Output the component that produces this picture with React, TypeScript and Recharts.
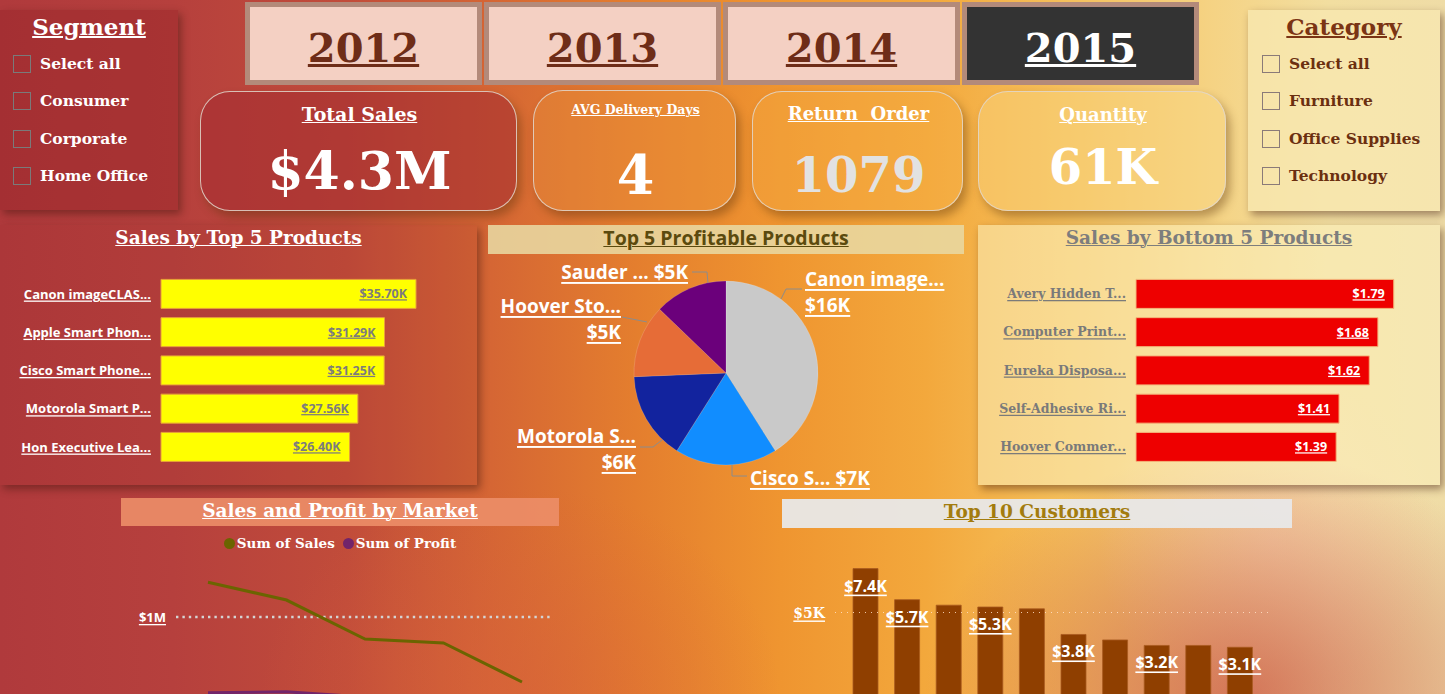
import React from 'react';
import { BarChart, Bar, XAxis, YAxis, ReferenceLine, LabelList, PieChart, Pie, Cell, LineChart, Line } from 'recharts';

// ---------- data ----------
const segments = ['Select all', 'Consumer', 'Corporate', 'Home Office'];
const categories = ['Select all', 'Furniture', 'Office Supplies', 'Technology'];
const years = ['2012', '2013', '2014', '2015'];
const selectedYear = '2015';

const kpiTitles = ['Total Sales', 'AVG Delivery Days', 'Return  Order', 'Quantity'];
const kpiValues = ['$4.3M', '4', '1079', '61K'];

const topProducts = ['Canon imageCLAS...', 'Apple Smart Phon...', 'Cisco Smart Phone...', 'Motorola Smart P...', 'Hon Executive Lea...'];
const topProductSales = [35.7, 31.29, 31.25, 27.56, 26.4]; // $K

const profitProducts = ['Canon image...', 'Cisco S...', 'Motorola S...', 'Hoover Sto...', 'Sauder ...'];
const profitValues = [16, 7, 6, 5, 5]; // $K

const bottomProducts = ['Avery Hidden T...', 'Computer Print...', 'Eureka Disposa...', 'Self-Adhesive Ri...', 'Hoover Commer...'];
const bottomProductSales = [1.79, 1.68, 1.62, 1.41, 1.39]; // $

const markets = ['APAC', 'EU', 'US', 'LATAM', 'EMEA'];
const marketSales = [1400000, 1195000, 747000, 701000, 253000];
const marketProfit = [130000, 140000, 80000, 70000, 10000];

const customers = ['Customer 1', 'Customer 2', 'Customer 3', 'Customer 4', 'Customer 5', 'Customer 6', 'Customer 7', 'Customer 8', 'Customer 9', 'Customer 10'];
const customerSales = [7400, 5700, 5400, 5300, 5200, 3800, 3500, 3200, 3200, 3100];
const customerLabelled = [0, 1, 3, 5, 7, 9];

// ---------- tables ----------
const topData = topProducts.map((name, i) => ({ name, value: topProductSales[i] }));
const pieData = profitProducts.map((name, i) => ({ name, value: profitValues[i] }));
const bottomData = bottomProducts.map((name, i) => ({ name, value: bottomProductSales[i] }));
const marketData = markets.map((name, i) => ({ name, sales: marketSales[i], profit: marketProfit[i] }));
const customerData = customers.map((name, i) => ({ name, value: customerSales[i] }));

// ---------- styles ----------
const SERIF = "'DejaVu Serif', Georgia, serif";
const SANS = "'Open Sans', 'Noto Sans', sans-serif";
const PIE_COLORS = ['#c9c9c9', '#118dff', '#12239e', '#e66c37', '#6b007b'];

const abs = (left: number, top: number, width: number, height: number): React.CSSProperties => ({
  position: 'absolute', left, top, width, height,
});

const centerText = (left: number, centerY: number, width: number, size: number, color: string, family: string): React.CSSProperties => ({
  position: 'absolute', left, width, top: centerY - size * 0.7, height: size * 1.4, lineHeight: `${size * 1.4}px`,
  fontSize: size, fontFamily: family, fontWeight: 'bold', color, textAlign: 'center', textDecoration: 'underline',
  whiteSpace: 'pre', textDecorationThickness: Math.max(1, size / 14),
});

function CheckList({ items, left, boxLeft, top, color, boxColor }: { items: string[]; left: number; boxLeft: number; top: number; color: string; boxColor: string }) {
  return (
    <>
      {items.map((t, i) => {
        const cy = top + i * 37.4;
        return (
          <React.Fragment key={t}>
            <div style={{ ...abs(boxLeft, cy - 9, 16, 16), border: `1.5px solid ${boxColor}` }} />
            <div style={{ position: 'absolute', left, top: cy - 12, height: 24, lineHeight: '24px', fontFamily: SERIF, fontWeight: 'bold', fontSize: 15.5, color, whiteSpace: 'nowrap' }}>{t}</div>
          </React.Fragment>
        );
      })}
    </>
  );
}

const TopTick = (props: any) => (
  <text x={props.x} y={props.y} textAnchor="end" dominantBaseline="central" fill="#ffffff" fontFamily={SANS} fontWeight="bold" fontSize={13} style={{ textDecoration: 'underline' }}>
    {props.payload.value}
  </text>
);
const BottomTick = (props: any) => (
  <text x={props.x} y={props.y} textAnchor="end" dominantBaseline="central" fill="#7a7a7a" fontFamily={SERIF} fontWeight="bold" fontSize={12.5} style={{ textDecoration: 'underline' }}>
    {props.payload.value}
  </text>
);
const MarketTick = (props: any) => (props.payload.value === 0 ? null : (
  <text x={props.x} y={props.y} textAnchor="end" dominantBaseline="central" fill="#ffffff" fontFamily={SANS} fontWeight="bold" fontSize={13} style={{ textDecoration: 'underline' }}>
    {`$${props.payload.value / 1000000}M`}
  </text>
));
const CustTick = (props: any) => (props.payload.value === 0 ? null : (
  <text x={props.x} y={props.y} textAnchor="end" dominantBaseline="central" fill="#ffffff" fontFamily={SERIF} fontWeight="bold" fontSize={14} style={{ textDecoration: 'underline' }}>
    {`$${props.payload.value / 1000}K`}
  </text>
));

// pie label layout relative to pie centre
const pieLabelLayout = [
  { anchor: 'start', tx: 79, ty: [-94, -68], two: true, path: [[55, -74], [60, -84], [76, -84]] },
  { anchor: 'start', tx: 24, ty: [105], two: false, path: [[6, 92], [6, 103], [21, 103]] },
  { anchor: 'end', tx: -90, ty: [63, 89], two: true, path: [[-64, 67], [-73, 74], [-86, 74]] },
  { anchor: 'end', tx: -105, ty: [-67, -41], two: true, path: [[-79, -51], [-104, -56]] },
  { anchor: 'end', tx: -38, ty: [-101], two: false, path: [[-18, -90], [-19, -101], [-34, -101]] },
];

const PieLabel = (props: any) => {
  const { cx, cy, index, name, value } = props;
  const lay = pieLabelLayout[index];
  const vs = `$${value}K`;
  const lines = lay.two ? [name, vs] : [`${name} ${vs}`];
  const d = lay.path.map((p, i) => `${i === 0 ? 'M' : 'L'}${cx + p[0]},${cy + p[1]}`).join(' ');
  return (
    <g>
      <path d={d} stroke="#8c8c8c" strokeWidth={1} fill="none" />
      {lines.map((l, i) => (
        <text key={i} x={cx + lay.tx} y={cy + lay.ty[i]} textAnchor={lay.anchor as any} dominantBaseline="central" fill="#ffffff" fontFamily={SANS} fontWeight="bold" fontSize={19} style={{ textDecoration: 'underline' }}>
          {l}
        </text>
      ))}
    </g>
  );
};

const CustLabel = (props: any) => {
  const { x, y, width, value, index } = props;
  if (!customerLabelled.includes(index)) return null;
  return (
    <text x={x + width / 2} y={y + 17} textAnchor="middle" dominantBaseline="central" fill="#ffffff" fontFamily={SANS} fontWeight="bold" fontSize={16} style={{ textDecoration: 'underline' }}>
      {`$${(value / 1000).toFixed(1)}K`}
    </text>
  );
};

export default function App() {
  const panelShadow = '3px 4px 8px rgba(60,20,10,0.45)';
  const kpiBoxes = [
    { left: 200, top: 91, width: 317, height: 120, bg: 'rgba(165,45,48,0.6)', titleY: 22, titleSize: 19, valueY: 79, valueSize: 52, valueColor: '#ffffff' },
    { left: 533, top: 90, width: 203, height: 121, bg: 'rgba(235,150,60,0.35)', titleY: 19, titleSize: 12.5, valueY: 85, valueSize: 54, valueColor: '#ffffff' },
    { left: 752, top: 91, width: 211, height: 120, bg: 'rgba(245,175,70,0.35)', titleY: 22, titleSize: 18, valueY: 84, valueSize: 48, valueColor: '#e2e2e2' },
    { left: 978, top: 91, width: 248, height: 120, bg: 'rgba(250,215,130,0.45)', titleY: 23, titleSize: 18, valueY: 76, valueSize: 48, valueColor: '#ffffff' },
  ];

  return (
    <div style={{
      position: 'fixed', left: 0, top: 0, width: 1445, height: 694, overflow: 'hidden',
      background: [
        'radial-gradient(ellipse 22% 35% at 86% 100%, rgba(200,85,70,0.75), rgba(200,85,70,0) 100%)',
        'radial-gradient(ellipse 18% 30% at 36% 100%, rgba(215,95,60,0.5), rgba(215,95,60,0) 100%)',
        'radial-gradient(ellipse 12% 25% at 88% 78%, rgba(250,215,185,0.6), rgba(250,215,185,0) 100%)',
        'linear-gradient(90deg, #b03a3c 0%, #b6403d 12%, #c14c3a 24%, #d56634 34%, #e47e2e 44%, #ef9530 54%, #f3a83c 64%, #f5c05c 74%, #f5d384 84%, #f2dea0 92%, #efdca6 100%)',
      ].join(','),
    }}>
      {/* Segment slicer */}
      <div style={{ ...abs(0, 10, 178, 200), background: 'rgba(150,35,40,0.45)', boxShadow: panelShadow }} />
      <div style={centerText(0, 27, 178, 23, '#ffffff', SERIF)}>Segment</div>
      <CheckList items={segments} left={40} boxLeft={13} top={64} color="#ffffff" boxColor="#7a7a7a" />

      {/* Year buttons */}
      {years.map((y, i) => {
        const sel = y === selectedYear;
        return (
          <div key={y} style={{ ...abs(245 + i * 239, 2, 237, 83), background: '#b38a7a' }}>
            <div style={{ ...abs(5, 5, 227, 73), background: sel ? '#333333' : '#f4d0c3' }} />
            <div style={centerText(0, 46, 237, 40, sel ? '#ffffff' : '#6e2d18', SERIF)}>{y}</div>
          </div>
        );
      })}

      {/* KPI cards */}
      {kpiBoxes.map((k, i) => (
        <div key={i} style={{ ...abs(k.left, k.top, k.width, k.height), borderRadius: 30, border: '1.5px solid rgba(225,215,205,0.85)', background: k.bg, boxShadow: '4px 6px 10px rgba(90,50,10,0.4)', boxSizing: 'border-box' }}>
          <div style={centerText(0, k.titleY, k.width, k.titleSize, '#ffffff', SERIF)}>{kpiTitles[i]}</div>
          <div style={{ ...centerText(0, k.valueY, k.width, k.valueSize, k.valueColor, SERIF), textDecoration: 'none' }}>{kpiValues[i]}</div>
        </div>
      ))}

      {/* Category slicer */}
      <div style={{ ...abs(1248, 10, 192, 201), background: 'rgba(248,232,178,0.75)', boxShadow: panelShadow }} />
      <div style={centerText(1248, 27, 192, 23, '#7b3414', SERIF)}>Category</div>
      <CheckList items={categories} left={1289} boxLeft={1262} top={64} color="#6b2f10" boxColor="#8a7a78" />

      {/* Sales by Top 5 Products */}
      <div style={{ ...abs(0, 225, 477, 260), background: 'rgba(150,40,40,0.12)', boxShadow: panelShadow }} />
      <div style={centerText(0, 238, 477, 18.5, '#ffffff', SERIF)}>Sales by Top 5 Products</div>
      <div style={abs(0, 264, 477, 212)}>
        <BarChart width={477} height={212} data={topData} layout="vertical" margin={{ top: 10.4, right: 16, bottom: 10.35, left: 0 }} barSize={29}>
          <XAxis type="number" domain={[0, 42]} hide />
          <YAxis type="category" dataKey="name" width={161} axisLine={false} tickLine={false} tickSize={0} tickMargin={10} tick={<TopTick />} interval={0} />
          <Bar dataKey="value" fill="#ffff00" stroke="#e8a13a" strokeWidth={1} isAnimationActive={false}>
            <LabelList dataKey="value" position="insideRight" offset={9} formatter={(v: any) => `$${Number(v).toFixed(2)}K`} fill="#7c7c7c" fontFamily={SANS} fontWeight="bold" fontSize={12.5} style={{ textDecoration: 'underline' }} />
          </Bar>
        </BarChart>
      </div>

      {/* Top 5 Profitable Products */}
      <div style={{ ...abs(488, 225, 476, 29), background: 'rgba(232,216,162,0.88)' }} />
      <div style={{ ...centerText(488, 238, 476, 19.5, '#5b4a0e', SANS) }}>Top 5 Profitable Products</div>
      <div style={abs(488, 254, 476, 245)}>
        <PieChart width={476} height={245} margin={{ top: 0, right: 0, bottom: 0, left: 0 }}>
          <Pie data={pieData} dataKey="value" nameKey="name" cx={238} cy={119} outerRadius={92} startAngle={90} endAngle={-270} stroke="rgba(255,255,255,0.25)" strokeWidth={0.6} label={PieLabel} labelLine={false} isAnimationActive={false}>
            {pieData.map((_, i) => <Cell key={i} fill={PIE_COLORS[i]} />)}
          </Pie>
        </PieChart>
      </div>

      {/* Sales by Bottom 5 Products */}
      <div style={{ ...abs(978, 225, 462, 260), background: 'rgba(252,240,190,0.55)', boxShadow: panelShadow }} />
      <div style={centerText(978, 238, 462, 18.5, '#7d7d7d', SERIF)}>Sales by Bottom 5 Products</div>
      <div style={abs(978, 264, 462, 212)}>
        <BarChart width={462} height={212} data={bottomData} layout="vertical" margin={{ top: 10.4, right: 16, bottom: 10.35, left: 0 }} barSize={29}>
          <XAxis type="number" domain={[0, 2]} hide />
          <YAxis type="category" dataKey="name" width={158} axisLine={false} tickLine={false} tickSize={0} tickMargin={10} tick={<BottomTick />} interval={0} />
          <Bar dataKey="value" fill="#ee0000" stroke="#f4b47a" strokeWidth={1} isAnimationActive={false}>
            <LabelList dataKey="value" position="insideRight" offset={9} formatter={(v: any) => `$${Number(v).toFixed(2)}`} fill="#ffffff" fontFamily={SANS} fontWeight="bold" fontSize={12.5} style={{ textDecoration: 'underline' }} />
          </Bar>
        </BarChart>
      </div>

      {/* Sales and Profit by Market */}
      <div style={{ ...abs(121, 498, 438, 196), overflow: 'hidden' }}>
        <div style={{ ...abs(0, 0, 438, 28), background: 'rgba(236,142,104,0.9)' }} />
        <div style={centerText(0, 13, 438, 18.5, '#ffffff', SERIF)}>Sales and Profit by Market</div>
        <div style={{ position: 'absolute', left: 0, width: 438, top: 36, height: 18, display: 'flex', justifyContent: 'center', alignItems: 'center', gap: 8, fontFamily: SERIF, fontWeight: 'bold', fontSize: 13.5, color: '#ffffff' }}>
          <span style={{ display: 'flex', alignItems: 'center', gap: 2 }}><span style={{ width: 11, height: 11, borderRadius: 6, background: '#6b6400', display: 'inline-block' }} />Sum of Sales</span>
          <span style={{ display: 'flex', alignItems: 'center', gap: 2 }}><span style={{ width: 11, height: 11, borderRadius: 6, background: '#72246a', display: 'inline-block' }} />Sum of Profit</span>
        </div>
        <div style={abs(0, 62, 438, 174)}>
          <LineChart width={438} height={174} data={marketData} margin={{ top: 13.5, right: 7, bottom: 0, left: 0 }}>
            <XAxis dataKey="name" height={30} padding={{ left: 32, right: 30 }} axisLine={false} tickLine={false} tick={false} />
            <YAxis domain={[0, 1500000]} ticks={[0, 1000000]} width={55} axisLine={false} tickLine={false} tickSize={0} tickMargin={10} tick={<MarketTick />} />
            <ReferenceLine y={1000000} stroke="#d4d4d4" strokeWidth={2.6} strokeDasharray="2.4 4" />
            <Line type="linear" dataKey="profit" stroke="#72246a" strokeWidth={3} dot={false} isAnimationActive={false} />
            <Line type="linear" dataKey="sales" stroke="#6b6400" strokeWidth={3} dot={false} isAnimationActive={false} />
          </LineChart>
        </div>
      </div>

      {/* Top 10 Customers */}
      <div style={{ ...abs(782, 499, 510, 29), background: 'rgba(232,232,232,0.95)' }} />
      <div style={centerText(782, 512, 510, 18.5, '#a37c0e', SERIF)}>Top 10 Customers</div>
      <div style={abs(770, 540, 520, 194)}>
        <BarChart width={520} height={194} data={customerData} margin={{ top: 17.6, right: 22, bottom: 0, left: 0 }} barSize={25}>
          <XAxis dataKey="name" height={30} padding={{ left: 10, right: 7 }} axisLine={false} tickLine={false} tick={false} interval={0} />
          <YAxis domain={[0, 8000]} ticks={[0, 5000]} width={65} axisLine={false} tickLine={false} tickSize={0} tickMargin={10} tick={<CustTick />} />
          <ReferenceLine y={5000} stroke="rgba(255,225,200,0.85)" strokeWidth={1.2} strokeDasharray="1 5" />
          <Bar dataKey="value" fill="#8f3f00" stroke="#a85a20" strokeWidth={0.8} isAnimationActive={false}>
            <LabelList dataKey="value" content={<CustLabel />} />
          </Bar>
        </BarChart>
      </div>
    </div>
  );
}
